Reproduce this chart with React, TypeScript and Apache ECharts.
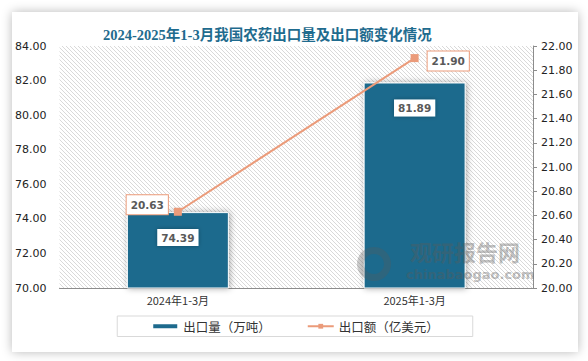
import React, { useEffect, useRef } from "react";
import * as echarts from "echarts";

const categories = ["2024年1-3月", "2025年1-3月"];
const exportVolume = [74.39, 81.89];
const exportValue = [20.63, 21.9];
const seriesNames = ["出口量（万吨）", "出口额（亿美元）"];
const titleText = "2024-2025年1-3月我国农药出口量及出口额变化情况";

function makeHatch(): string {
  const c = document.createElement("canvas");
  c.width = 4;
  c.height = 4;
  const ctx = c.getContext("2d");
  if (ctx) {
    ctx.fillStyle = "#ffffff";
    ctx.fillRect(0, 0, 4, 4);
    ctx.strokeStyle = "#d9d9d9";
    ctx.lineWidth = 1;
    ctx.beginPath();
    ctx.moveTo(-1, -1);
    ctx.lineTo(5, 5);
    ctx.moveTo(-1, 3);
    ctx.lineTo(1, 5);
    ctx.moveTo(3, -1);
    ctx.lineTo(5, 1);
    ctx.stroke();
  }
  return c.toDataURL();
}

export default function App() {
  const ref = useRef<HTMLDivElement>(null);

  useEffect(() => {
    if (!ref.current) return;
    const chart = echarts.init(ref.current, null, { renderer: "svg" });
    const hatch = makeHatch();
    const barColor = "#1D6A8D";
    const lineColor = "#EB9B7A";
    const labelFont = "DejaVu Sans";
    chart.setOption({
      animation: false,
      title: {
        text: titleText,
        left: 86,
        top: 11,
        textStyle: {
          fontFamily: "Liberation Serif, Noto Sans CJK SC",
          fontWeight: "bold",
          fontSize: 14.5,
          color: "#1F6B8E",
        },
      },
      grid: {
        left: 45,
        right: 45,
        top: 34,
        bottom: 64,
        show: true,
        borderWidth: 0,
        backgroundColor: { image: hatch, repeat: "repeat" },
      },
      legend: {
        left: "center",
        top: 304,
        data: [
          { name: seriesNames[0], icon: "rect" },
          { name: seriesNames[1] },
        ],
        itemWidth: 26,
        itemHeight: 6,
        itemGap: 36,
        padding: [4, 34],
        borderColor: "#d9d9d9",
        borderWidth: 1,
        textStyle: {
          fontFamily: "Noto Sans CJK SC",
          fontSize: 12.5,
          color: "#333",
        },
      },
      xAxis: {
        type: "category",
        data: categories,
        axisLine: { show: true, lineStyle: { color: "#8c8c8c", width: 1 } },
        axisTick: { show: false },
        axisLabel: {
          fontFamily: "Noto Sans CJK SC",
          fontSize: 11,
          color: "#333",
          margin: 6,
        },
      },
      yAxis: [
        {
          type: "value",
          min: 70,
          max: 84,
          interval: 2,
          axisLine: { show: false },
          axisTick: { show: false },
          splitLine: { show: false },
          axisLabel: {
            fontFamily: labelFont,
            fontSize: 11,
            color: "#222",
            margin: 13,
            formatter: (v: number) => v.toFixed(2),
          },
        },
        {
          type: "value",
          min: 20,
          max: 22,
          interval: 0.2,
          position: "right",
          axisLine: { show: true, lineStyle: { color: "#8c8c8c", width: 1 } },
          axisTick: { show: true, length: 4, lineStyle: { color: "#8c8c8c" } },
          splitLine: { show: false },
          axisLabel: {
            fontFamily: labelFont,
            fontSize: 11,
            color: "#222",
            margin: 8,
            formatter: (v: number) => v.toFixed(2),
          },
        },
      ],
      series: [
        {
          name: seriesNames[0],
          type: "bar",
          yAxisIndex: 0,
          data: exportVolume,
          barWidth: 102,
          itemStyle: {
            color: barColor,
            borderColor: "#ffffff",
            borderWidth: 1,
            shadowBlur: 6,
            shadowColor: "rgba(0,0,0,0.35)",
            shadowOffsetX: 1,
            shadowOffsetY: 0,
          },
          label: {
            show: true,
            position: "insideTop",
            distance: 17,
            formatter: (p: any) => Number(p.value).toFixed(2),
            fontFamily: labelFont,
            fontWeight: "bold",
            fontSize: 10.5,
            color: "#595959",
            backgroundColor: "#ffffff",
            padding: [3, 4],
            shadowBlur: 4,
            shadowColor: "rgba(0,0,0,0.3)",
          },
          z: 2,
        },
        {
          name: seriesNames[1],
          type: "line",
          yAxisIndex: 1,
          data: [
            { value: exportValue[0], label: { position: "left", distance: 6, offset: [0, -7] } },
            { value: exportValue[1], label: { position: "right", distance: 9, offset: [0, 3] } },
          ],
          symbol: "rect",
          symbolSize: 8,
          lineStyle: { color: lineColor, width: 2 },
          itemStyle: { color: lineColor },
          label: {
            show: true,
            formatter: (p: any) => Number(p.value).toFixed(2),
            fontFamily: labelFont,
            fontWeight: "bold",
            fontSize: 10.5,
            color: "#595959",
            backgroundColor: "#ffffff",
            borderColor: lineColor,
            borderWidth: 1,
            padding: [4, 4],
          },
          z: 3,
        },
      ],
      graphic: [
        {
          type: "text",
          left: 398,
          top: 227,
          z: 10,
          style: {
            text: "观研报告网",
            fontFamily: "Noto Sans CJK SC",
            fontWeight: "bold",
            fontSize: 22,
            lineHeight: 24,
            fill: "rgba(90,90,90,0.4)",
          },
        },
        {
          type: "text",
          left: 394,
          top: 255,
          z: 10,
          style: {
            text: "chinabaogao.com",
            fontFamily: "DejaVu Sans",
            fontWeight: "bold",
            fontSize: 13,
            lineHeight: 14,
            fill: "rgba(90,90,90,0.4)",
          },
        },
        {
          type: "ring",
          shape: { cx: 362, cy: 252, r: 17, r0: 10 },
          z: 10,
          style: { fill: "rgba(90,90,90,0.3)" },
        },
      ],
    });
    return () => chart.dispose();
  }, []);

  return (
    <div
      style={{
        position: "fixed",
        left: 0,
        top: 0,
        width: 588,
        height: 361,
        background: "#ffffff",
      }}
    >
      <div
        style={{
          position: "absolute",
          left: 12,
          top: 12,
          width: 566,
          height: 340,
          background: "#ffffff",
          boxShadow: "0 0 10px rgba(0,0,0,0.28)",
        }}
      >
        <div ref={ref} style={{ width: 566, height: 340 }} />
      </div>
    </div>
  );
}
